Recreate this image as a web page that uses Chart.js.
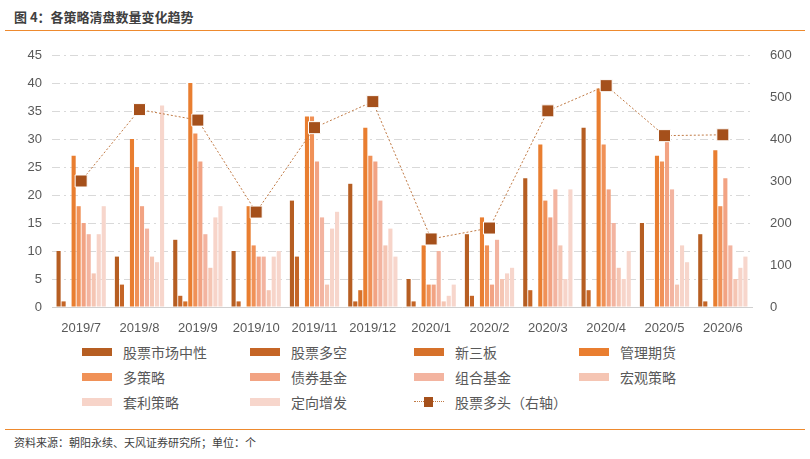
<!DOCTYPE html>
<html>
<head>
<meta charset="utf-8">
<script src="https://cdn.jsdelivr.net/npm/chart.js@4/dist/chart.umd.min.js"></script>
<style>
  body { margin: 0; width: 810px; height: 459px; background: #fff; position: relative; overflow: hidden;
         font-family: "Noto Sans CJK SC", "Noto Sans", sans-serif; color: #595959; }
  #title { position: absolute; left: 14px; top: 7px; font-size: 13px; font-weight: bold; color: #404040; }
  .rule { position: absolute; left: 5px; width: 800px; height: 0; border-top: 1.5px solid #EE8A2E; }
  #source { position: absolute; left: 14px; top: 434px; font-size: 11px; color: #404040; }
  #wrap { position: absolute; left: 0; top: 35px; width: 810px; height: 300px; }
  #legend { position: absolute; left: 0; top: 340px; width: 810px; height: 80px; }
  .item { position: absolute; display: flex; align-items: center; font-size: 14px; color: #595959; height: 20px; }
  .sw { width: 30px; height: 8px; margin-right: 11px; position: relative; }
</style>
</head>
<body>
<div id="title">图 4：各策略清盘数量变化趋势</div>
<div class="rule" style="top:30px"></div>
<div id="wrap"><canvas id="c" width="810" height="300"></canvas></div>
<div id="legend"></div>
<div class="rule" style="top:429px"></div>
<div id="source">资料来源：朝阳永续、天风证券研究所；单位：个</div>
<script>
const categories = ["2019/7", "2019/8", "2019/9", "2019/10", "2019/11", "2019/12",
                    "2020/1", "2020/2", "2020/3", "2020/4", "2020/5", "2020/6"];

const marketNeutral = [10, 9, 12, 10, 19, 22, 5, 13, 23, 32, 15, 13];
const longShort     = [1, 4, 2, 1, 9, 1, 1, 2, 3, 3, 0, 1];
const neeq          = [0, 0, 1, 0, 0, 3, 0, 0, 0, 0, 0, 0];
const managedFut    = [27, 30, 40, 18, 34, 32, 11, 16, 29, 39, 27, 28];
const multiStrat    = [18, 25, 31, 11, 34, 27, 4, 11, 19, 29, 26, 18];
const bondFund      = [15, 18, 26, 9, 26, 26, 4, 4, 16, 21, 30, 23];
const fundOfFunds   = [13, 14, 13, 9, 16, 19, 10, 12, 21, 15, 21, 11];
const macro         = [6, 9, 7, 3, 4, 11, 1, 5, 11, 7, 4, 5];
const arbitrage     = [13, 8, 16, 9, 14, 14, 2, 6, 5, 5, 11, 7];
const privatePlace  = [18, 36, 18, 10, 17, 9, 4, 7, 21, 10, 8, 9];
const stockLong     = [300, 470, 445, 226, 427, 489, 162, 188, 467, 527, 408, 410];

const leftTicks = [0, 5, 10, 15, 20, 25, 30, 35, 40, 45];
const rightTicks = [0, 100, 200, 300, 400, 500, 600];

const barNames = ["股票市场中性", "股票多空", "新三板", "管理期货", "多策略",
                  "债券基金", "组合基金", "宏观策略", "套利策略", "定向增发"];
const barData = [marketNeutral, longShort, neeq, managedFut, multiStrat,
                 bondFund, fundOfFunds, macro, arbitrage, privatePlace];
const barColors = ["#B65E22", "#C56526", "#D6712A", "#E97E30", "#F09157",
                   "#F2A383", "#F3B4A0", "#F5C5B3", "#F7D4C9", "#F7D6CC"];
const lineName = "股票多头（右轴）";

const datasets = barData.map((d, i) => ({
  type: "bar",
  label: barNames[i],
  data: d,
  backgroundColor: barColors[i],
  yAxisID: "y",
  order: 2,
  categoryPercentage: 0.86,
  barPercentage: 0.82
}));

datasets.push({
  type: "line",
  label: lineName,
  data: stockLong,
  yAxisID: "y1",
  order: 0,
  borderColor: "#C07A45",
  borderWidth: 1,
  borderDash: [2, 2],
  pointStyle: "rect",
  pointRadius: 8.5,
  pointBackgroundColor: "#A5501B",
  pointBorderColor: "#ffffff",
  pointBorderWidth: 1,
  fill: false,
  tension: 0
});

const tickFont = { family: "'Liberation Sans', Arial, sans-serif", size: 13 };

new Chart(document.getElementById("c"), {
  data: { labels: categories, datasets: datasets },
  options: {
    responsive: false,
    animation: false,
    layout: { padding: { top: 20, bottom: 0, left: 0, right: 0 } },
    plugins: { legend: { display: false }, tooltip: { enabled: false } },
    scales: {
      x: {
        grid: { display: false },
        border: { display: true, color: "#D0D0D0", width: 1 },
        ticks: { color: "#595959", font: tickFont, padding: 6, maxRotation: 0 },
        afterFit: s => { s.height = 28; }
      },
      y: {
        position: "left",
        min: 0, max: 45,
        afterBuildTicks: s => { s.ticks = leftTicks.map(v => ({ value: v })); },
        grid: { color: "#D9D9D9", lineWidth: 1, drawTicks: false },
        border: { display: false, dash: [8, 4, 2, 4] },
        ticks: { color: "#595959", font: tickFont, padding: 10 },
        afterFit: s => { s.width = 52; }
      },
      y1: {
        position: "right",
        min: 0, max: 600,
        afterBuildTicks: s => { s.ticks = rightTicks.map(v => ({ value: v })); },
        grid: { display: false },
        border: { display: false },
        ticks: { color: "#595959", font: tickFont, padding: 10 },
        afterFit: s => { s.width = 58; }
      }
    }
  }
});

// legend in a 4-column grid like the original
const legend = document.getElementById("legend");
const colX = [82, 250, 414, 579];
const rowY = [2, 27, 52];
const entries = barNames.map((n, i) => ({ name: n, color: barColors[i], line: false }));
entries.push({ name: lineName, line: true });
entries.forEach((e, i) => {
  const div = document.createElement("div");
  div.className = "item";
  div.style.left = colX[i % 4] + "px";
  div.style.top = rowY[Math.floor(i / 4)] + "px";
  if (e.line) {
    div.innerHTML = `<div class="sw" style="height:10px">
      <div style="position:absolute;left:0;top:4px;width:30px;border-top:1px dotted #C07A45"></div>
      <div style="position:absolute;left:10px;top:0;width:9px;height:10px;background:#A5501B"></div>
    </div><span>${e.name}</span>`;
  } else {
    div.innerHTML = `<div class="sw" style="background:${e.color}"></div><span>${e.name}</span>`;
  }
  legend.appendChild(div);
});
</script>
</body>
</html>
